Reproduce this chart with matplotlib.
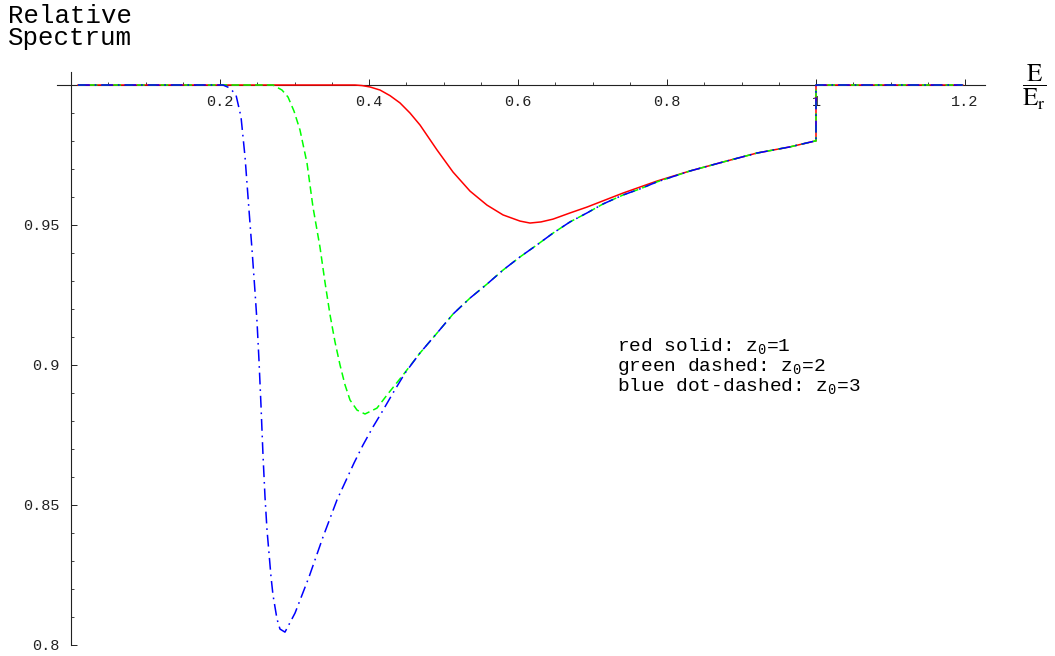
import numpy as np
import matplotlib
matplotlib.use("Agg")
import matplotlib.pyplot as plt
from matplotlib.ticker import MultipleLocator, FixedLocator, FixedFormatter

# values (E/Er, relative spectrum)
red_x = [0.0094, 0.3812, 0.3906, 0.4013, 0.4148, 0.4282, 0.4416, 0.4550, 0.4685,
         0.4913, 0.5128, 0.5356, 0.5584, 0.5799, 0.6027, 0.6161, 0.6309, 0.6470,
         0.6698, 0.6926, 0.7235, 0.7409, 0.7866, 0.8309, 0.8752, 0.9208, 0.9651,
         0.9987, 1.0, 1.0, 1.197]
red_y = [1.0, 1.0, 0.9998, 0.9993, 0.9982, 0.9962, 0.9936, 0.9900, 0.9857,
         0.9768, 0.9689, 0.9621, 0.9571, 0.9536, 0.9514, 0.9507, 0.9511, 0.9521,
         0.9543, 0.9564, 0.9596, 0.9614, 0.9657, 0.9693, 0.9725, 0.9757, 0.9779,
         0.9800, 0.9800, 1.0, 1.0]

# shared tail of the green and blue curves
tail_x = [0.4685, 0.4913, 0.5128, 0.5356, 0.5584, 0.5799, 0.6027, 0.6255, 0.6470,
          0.6698, 0.6926, 0.7141, 0.7409, 0.7638, 0.7866, 0.8309, 0.8752, 0.9208,
          0.9651, 0.9987, 1.0, 1.0, 1.197]
tail_y = [0.9043, 0.9114, 0.9182, 0.9239, 0.9289, 0.9339, 0.9386, 0.9429, 0.9471,
          0.9511, 0.9543, 0.9575, 0.9607, 0.9629, 0.9654, 0.9693, 0.9725, 0.9757,
          0.9779, 0.9800, 0.9800, 1.0, 1.0]

green_x = [0.0094, 0.2711, 0.2832, 0.2913, 0.2993, 0.3074, 0.3168, 0.3248, 0.3342,
           0.3409, 0.3477, 0.3544, 0.3611, 0.3678, 0.3745, 0.3839, 0.3946, 0.4107,
           0.4242, 0.4456] + tail_x
green_y = [1.0, 1.0, 0.9982, 0.9957, 0.9907, 0.9839, 0.9721, 0.9564, 0.9421,
           0.9296, 0.9179, 0.9082, 0.9000, 0.8929, 0.8875, 0.8839, 0.8825, 0.8846,
           0.8893, 0.8964] + tail_y

blue_x = [0.0094, 0.2040, 0.2134, 0.2215, 0.2282, 0.2336, 0.2389, 0.2430, 0.2470,
          0.2497, 0.2523, 0.2550, 0.2577, 0.2604, 0.2631, 0.2685, 0.2711, 0.2765,
          0.2805, 0.2872, 0.3007, 0.3195, 0.3383, 0.3570, 0.3799, 0.3919, 0.4054,
          0.4174, 0.4322, 0.4483] + tail_x
blue_y = [1.0, 1.0, 0.9989, 0.9964, 0.9886, 0.9743, 0.9554, 0.9411, 0.9261,
          0.9154, 0.9018, 0.8857, 0.8679, 0.8529, 0.8411, 0.8243, 0.8179, 0.8093,
          0.8057, 0.8046, 0.8114, 0.8243, 0.8386, 0.8518, 0.8650, 0.8714, 0.8779,
          0.8832, 0.8900, 0.8971] + tail_y

x_major = [0.2, 0.4, 0.6, 0.8, 1.0, 1.2]
x_labels = ["0.2", "0.4", "0.6", "0.8", "1", "1.2"]
y_major = [0.8, 0.85, 0.9, 0.95]
y_labels = ["0.8", "0.85", "0.9", "0.95"]

legend_lines = [r"red solid: $\mathrm{z_0}$=1",
                r"green dashed: $\mathrm{z_0}$=2",
                r"blue dot-dashed: $\mathrm{z_0}$=3"]

plt.rcParams["lines.scale_dashes"] = False
plt.rcParams["mathtext.fontset"] = "custom"
plt.rcParams["mathtext.rm"] = "Liberation Mono"
plt.rcParams["mathtext.it"] = "Liberation Mono"

W, H = 1055, 656
fig = plt.figure(figsize=(W / 100, H / 100), dpi=100)

# axes box: x=0 at px 71, 745 px per unit; y=1 at px 85, 2800 px per unit
x0, x1 = -0.019, 1.227
y0, y1 = 0.8, 1.0046
left = 71 + x0 * 745
right = 71 + x1 * 745
top = 85 - (y1 - 1) * 2800
bottom = 85 + (1 - y0) * 2800
ax = fig.add_axes([left / W, 1 - bottom / H, (right - left) / W, (bottom - top) / H])
ax.set_xlim(x0, x1)
ax.set_ylim(y0, y1)

# curves
ax.plot(red_x, red_y, color="#ff0000", lw=1.1, zorder=3)
ax.plot(green_x, green_y, color="#00ff00", lw=1.1, dashes=(5.5, 3), zorder=3)
ax.plot(blue_x, blue_y, color="#0000ff", lw=1.1, dashes=(8.5, 3.5, 1.2, 3.5), zorder=3)

# Mathematica style crossing axes
for s in ["top", "right"]:
    ax.spines[s].set_visible(False)
ax.spines["left"].set_position(("data", 0))
ax.spines["bottom"].set_position(("data", 1))
for s in ["left", "bottom"]:
    ax.spines[s].set_color("#222222")
    ax.spines[s].set_linewidth(0.8)

ax.xaxis.set_major_locator(FixedLocator(x_major))
ax.xaxis.set_major_formatter(FixedFormatter(x_labels))
ax.xaxis.set_minor_locator(MultipleLocator(0.05))
ax.yaxis.set_major_locator(FixedLocator(y_major))
ax.yaxis.set_major_formatter(FixedFormatter(y_labels))
ax.yaxis.set_minor_locator(MultipleLocator(0.01))

ax.tick_params(which="major", direction="in", length=4.3, width=0.7, color="#222222")
ax.tick_params(which="minor", direction="in", length=2.2, width=0.6, color="#222222")
ax.tick_params(axis="x", which="major", pad=7)
ax.tick_params(axis="y", which="major", pad=8)
for lab in ax.get_xticklabels() + ax.get_yticklabels():
    lab.set_family("Liberation Mono")
    lab.set_fontsize(11)
    lab.set_color("#222222")

# axis labels
fig.text(8 / W, 1 - 4 / H, "Relative\nSpectrum", family="Liberation Mono",
         fontsize=18.5, va="top", ha="left", linespacing=0.9)
fig.text(1034 / W, 1 - 87 / H, r"$\dfrac{\mathrm{E}}{\mathrm{E_r}}$",
         math_fontfamily="stix", fontsize=18, ha="center", va="center")

# text legend
for i, line in enumerate(legend_lines):
    fig.text(617 / W, 1 - (351 + 20 * i) / H, line, family="Liberation Mono",
             fontsize=14, va="baseline", ha="left")

fig.savefig("out.png", dpi=100, facecolor="white")
